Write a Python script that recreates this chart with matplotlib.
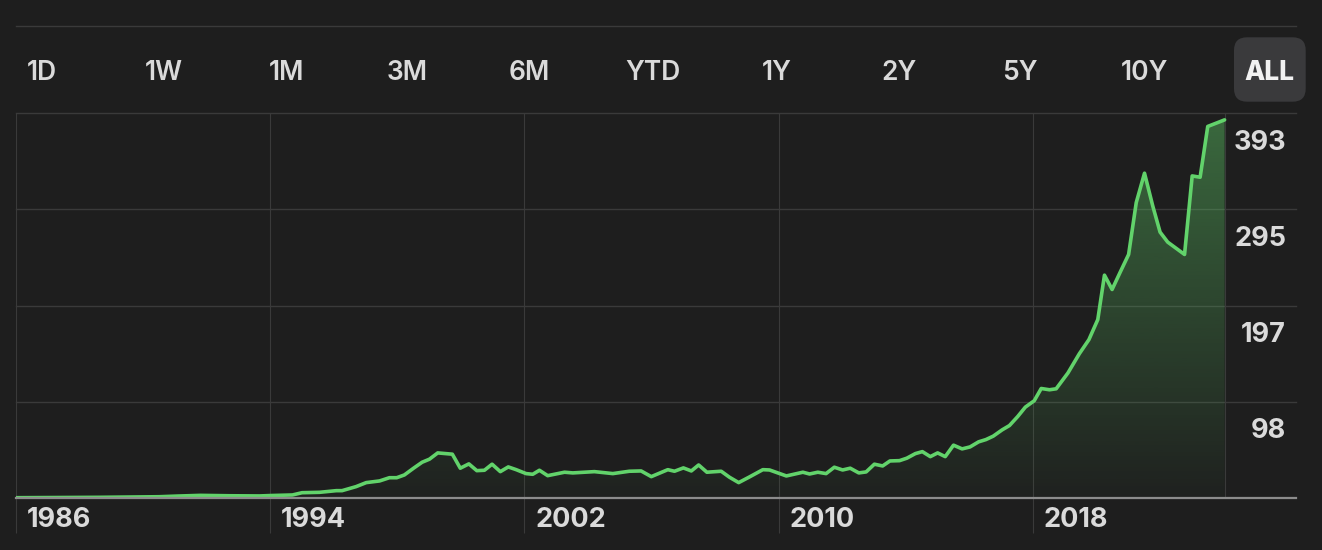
import matplotlib
matplotlib.use('Agg')
import matplotlib.pyplot as plt
import numpy as np
import matplotlib.transforms as mtransforms
from matplotlib.patches import FancyBboxPatch

# ---------------- data ----------------
years = [1986.0, 1987.37, 1988.63, 1989.57, 1990.5, 1991.1, 1991.8, 1992.7, 1993.66, 1994.0,
         1994.7, 1995.0, 1995.55, 1996.08, 1996.26, 1996.7, 1997.02, 1997.44, 1997.75, 1997.98,
         1998.22, 1998.51, 1998.78, 1999.01, 1999.27, 1999.73, 1999.98, 2000.25, 2000.5, 2000.74,
         2000.98, 2001.24, 2001.49, 2001.74, 2002.05, 2002.26, 2002.47, 2002.73, 2003.26, 2003.52,
         2004.2, 2004.78, 2005.3, 2005.67, 2005.99, 2006.51, 2006.72, 2007.0, 2007.25, 2007.48,
         2007.74, 2008.19, 2008.45, 2008.74, 2009.08, 2009.5, 2009.71, 2010.24, 2010.76, 2010.97,
         2011.23, 2011.49, 2011.75, 2012.01, 2012.25, 2012.52, 2012.75, 2013.01, 2013.27, 2013.5,
         2013.8, 2014.03, 2014.3, 2014.52, 2014.77, 2015.0, 2015.24, 2015.5, 2015.77, 2016.02,
         2016.29, 2016.52, 2016.75, 2017.03, 2017.26, 2017.52, 2017.76, 2018.04, 2018.26, 2018.52,
         2018.73, 2019.1, 2019.46, 2019.76, 2020.04, 2020.25, 2020.49, 2020.75, 2021.01, 2021.25,
         2021.51, 2021.77, 2022.0, 2022.24, 2022.77, 2023.01, 2023.26, 2023.5, 2023.77, 2024.03]
values = [0.6, 0.8, 1.0, 1.3, 1.6, 2.3, 3.0, 2.6, 2.4, 2.8,
          3.4, 5.7, 6.1, 7.8, 7.8, 11.9, 16.0, 17.7, 21.0, 21.0,
          23.8, 30.7, 36.8, 39.9, 46.3, 45.0, 30.7, 35.1, 28.2, 28.6,
          34.8, 27.2, 32.0, 29.2, 25.2, 24.5, 28.6, 23.1, 26.6, 25.9,
          27.2, 25.2, 27.6, 27.9, 22.1, 29.2, 27.6, 31.0, 27.9, 34.0,
          26.6, 27.6, 21.5, 16.0, 21.8, 29.2, 28.9, 22.8, 26.6, 24.8,
          26.6, 25.2, 31.7, 28.9, 30.7, 25.9, 26.9, 34.8, 33.0, 38.1,
          38.4, 40.9, 45.6, 47.6, 42.5, 46.3, 42.5, 54.2, 50.4, 52.4,
          57.6, 59.9, 63.4, 69.8, 74.2, 83.4, 93.0, 99.5, 112.0, 110.7,
          111.7, 127.8, 147.5, 161.8, 182.3, 227.6, 213.0, 231.0, 248.7, 301.6,
          331.6, 298.1, 271.5, 261.3, 248.7, 328.8, 327.5, 379.3, 382.7, 386.0]

range_tabs = ['1D', '1W', '1M', '3M', '6M', 'YTD', '1Y', '2Y', '5Y', '10Y', 'ALL']
x_ticks = [1986, 1994, 2002, 2010, 2018]
x_tick_labels = ['1986', '1994', '2002', '2010', '2018']
y_ticks = [98.25, 196.5, 294.75, 393.0]
y_tick_labels = ['98', '197', '295', '393']

# ---------------- style ----------------
W, H = 1322, 550
BG = '#1e1e1e'
GRID = '#3a3a3a'
GREEN = '#62d36b'
TEXT = '#dadada'
FONT = ['Inter', 'DejaVu Sans']
plt.rcParams['font.family'] = FONT

fig = plt.figure(figsize=(W / 100, H / 100), dpi=100, facecolor=BG)

ax_left, ax_right, ax_top, ax_bottom = 16, 1296, 113, 498.3
ax = fig.add_axes([ax_left / W, (H - ax_bottom) / H,
                   (ax_right - ax_left) / W, (ax_bottom - ax_top) / H])
ax.set_facecolor(BG)
px_per_year = 31.78
x0 = 1986.0
x1 = x0 + (ax_right - ax_left) / px_per_year
ax.set_xlim(x0, x1)
ax.set_ylim(0, 393.0)

for s in ['top', 'right', 'left']:
    ax.spines[s].set_visible(False)
ax.spines['bottom'].set_color('#8c8c8c')
ax.spines['bottom'].set_linewidth(1.6)
ax.spines['bottom'].set_zorder(5)

# grid
for yv in y_ticks:
    ax.axhline(yv, color=GRID, lw=1.0, zorder=1, clip_on=False)
ax.set_xticks(x_ticks)
ax.set_xticklabels([])
ax.tick_params(axis='x', length=25.5, width=0.8, color=GRID, direction='out')
ax.set_yticks([])
for xv in x_ticks:
    ax.axvline(xv, color=GRID, lw=0.8, zorder=1)
ax.axvline(years[-1], color=GRID, lw=0.8, zorder=1)

# gradient fill
xs = np.array(years)
ys = np.array(values)
poly = ax.fill_between(xs, ys, 0, facecolor='none', edgecolor='none')
grad_h = 256
alpha = np.linspace(0.02, 0.42, grad_h)[:, None]
rgb = np.array(matplotlib.colors.to_rgb(GREEN))
img = np.zeros((grad_h, 1, 4))
img[..., :3] = rgb
img[..., 3] = alpha
im = ax.imshow(img, extent=[xs[0], xs[-1], 0, 393.0], origin='lower',
               aspect='auto', zorder=2, interpolation='bilinear')
im.set_clip_path(poly.get_paths()[0], transform=ax.transData)

ax.plot(xs, ys, color=GREEN, lw=2.6, solid_joinstyle='round',
        solid_capstyle='round', zorder=4)

# y labels (right side, below gridline)
ylab_tr = ax.get_yaxis_transform() + mtransforms.ScaledTranslation(0, -0.295, fig.dpi_scale_trans)
for yv, lab in zip(y_ticks, y_tick_labels):
    ax.text((1286 - ax_left) / (ax_right - ax_left), yv, lab, transform=ylab_tr,
            ha='right', va='center', color=TEXT, fontsize=19.5, fontweight='bold')

# x labels
xlab_tr = ax.get_xaxis_transform() + mtransforms.ScaledTranslation(0.11, -0.215, fig.dpi_scale_trans)
for xv, lab in zip(x_ticks, x_tick_labels):
    ax.text(xv, 0, lab, transform=xlab_tr, ha='left', va='center',
            color=TEXT, fontsize=19.5, fontweight='bold', clip_on=False)

# top separator
fig.add_artist(plt.Line2D([ax_left / W, ax_right / W], [1 - 26 / H, 1 - 26 / H],
                          transform=fig.transFigure, color=GRID, lw=1.0))

# ALL highlight box
box = FancyBboxPatch((1234, H - 101.7), 71.7, 64.4,
                     boxstyle='round,pad=0,rounding_size=13',
                     transform=mtransforms.IdentityTransform(),
                     facecolor='#3a3a3c', edgecolor='none')
fig.patches.append(box)

tab_x = [42, 164, 286, 407, 529, 653, 777, 899, 1020, 1145, 1269]
for tx, lab in zip(tab_x, range_tabs):
    bold = lab == 'ALL'
    fig.text(tx / W, 1 - 73 / H, lab, ha='center', va='center',
             color='#f2f2f2' if bold else TEXT, fontsize=19,
             fontweight='heavy' if bold else 'semibold')

fig.savefig('out.png', dpi=100, facecolor=BG)
